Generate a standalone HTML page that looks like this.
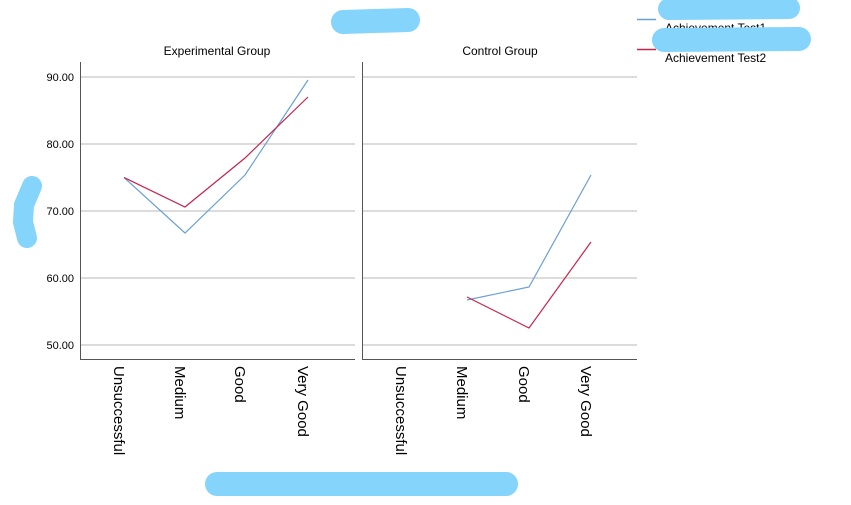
<!DOCTYPE html>
<html><head><style>body{margin:0;background:#fff}</style></head><body>
<svg width="851" height="500" xmlns="http://www.w3.org/2000/svg" font-family="Liberation Sans, sans-serif">
<rect width="851" height="500" fill="#fff"/>
<g stroke="#d0d0d0" stroke-width="1.5">
<line x1="80" y1="77" x2="355" y2="77"/><line x1="80" y1="144" x2="355" y2="144"/><line x1="80" y1="211" x2="355" y2="211"/><line x1="80" y1="278" x2="355" y2="278"/><line x1="80" y1="345" x2="355" y2="345"/>
<line x1="362" y1="77" x2="637" y2="77"/><line x1="362" y1="144" x2="637" y2="144"/><line x1="362" y1="211" x2="637" y2="211"/><line x1="362" y1="278" x2="637" y2="278"/><line x1="362" y1="345" x2="637" y2="345"/>
</g>
<g stroke="#555" stroke-width="1" fill="none">
<polyline points="80.5,62 80.5,359.5 355,359.5"/>
<polyline points="362.5,62 362.5,359.5 637,359.5"/>
</g>
<g font-size="11" text-anchor="end" fill="#000">
<text x="74" y="81">90.00</text><text x="74" y="148">80.00</text><text x="74" y="215">70.00</text><text x="74" y="282">60.00</text><text x="74" y="349">50.00</text>
</g>
<g font-size="12" text-anchor="middle"><text x="217" y="55">Experimental Group</text><text x="500" y="55">Control Group</text></g>
<g fill="none" stroke-width="1.2">
<polyline stroke="#6a9fd6" points="124,177.5 185,233 245,175 308,80"/>
<polyline stroke="#c8234a" points="124,177.5 185,207 245,158 308,97"/>
<polyline stroke="#6a9fd6" points="467,300 529,287 591,175"/>
<polyline stroke="#c8234a" points="467,297 529,328 591,242"/>
</g>
<g font-size="15" fill="#000">
<text transform="translate(114,366) rotate(90)">Unsuccessful</text>
<text transform="translate(175,366) rotate(90)">Medium</text>
<text transform="translate(235,366) rotate(90)">Good</text>
<text transform="translate(298,366) rotate(90)">Very Good</text>
<text transform="translate(396,366) rotate(90)">Unsuccessful</text>
<text transform="translate(457,366) rotate(90)">Medium</text>
<text transform="translate(519,366) rotate(90)">Good</text>
<text transform="translate(581,366) rotate(90)">Very Good</text>
</g>
<line x1="637" y1="19.5" x2="656" y2="19.5" stroke="#6a9fd6" stroke-width="1.5"/>
<line x1="637" y1="49.5" x2="656" y2="49.5" stroke="#c8234a" stroke-width="1.5"/>
<g font-size="12"><text x="665" y="32">Achievement Test1</text><text x="665" y="62">Achievement Test2</text></g>
<g stroke="#84d4fc" stroke-linecap="round" fill="none">
<line x1="343" y1="22" x2="408" y2="20" stroke-width="24"/>
<line x1="669" y1="9" x2="789" y2="8" stroke-width="22"/>
<line x1="664" y1="40" x2="799" y2="39" stroke-width="24"/>
<path d="M32,186 L24,205 L23,222 L27,238" stroke-width="20"/>
<line x1="217" y1="484" x2="506" y2="484" stroke-width="24"/>
</g>
</svg>
</body></html>
